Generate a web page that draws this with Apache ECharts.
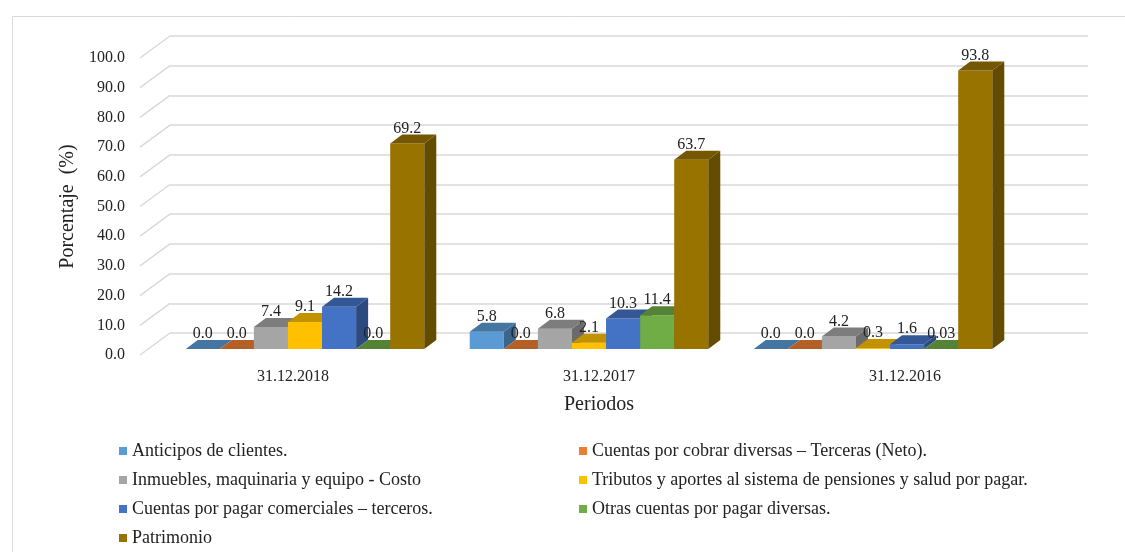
<!DOCTYPE html>
<html>
<head>
<meta charset="utf-8">
<title>Porcentaje por periodos</title>
<script src="https://cdn.jsdelivr.net/npm/echarts@6/dist/echarts.min.js"></script>
<style>
  html, body { margin: 0; padding: 0; background: #fff; }
  #chart { width: 1125px; height: 552px; }
</style>
</head>
<body>
<div id="chart"></div>
<script>
// datos
const periodos = ['31.12.2018', '31.12.2017', '31.12.2016']
const nombres = [
  'Anticipos de clientes.',
  'Cuentas por cobrar diversas – Terceras (Neto).',
  'Inmuebles, maquinaria y equipo - Costo',
  'Tributos y aportes al sistema de pensiones y salud por pagar.',
  'Cuentas por pagar comerciales – terceros.',
  'Otras cuentas por pagar diversas.',
  'Patrimonio'
]
const anticipos = [0.0, 5.8, 0.0]
const cuentasCobrar = [0.0, 0.0, 0.0]
const inmuebles = [7.4, 6.8, 4.2]
const tributos = [9.1, 2.1, 0.3]
const cuentasPagar = [14.2, 10.3, 1.6]
const otrasCuentas = [0.0, 11.4, 0.03]
const patrimonio = [69.2, 63.7, 93.8]
const ticks = [0, 10, 20, 30, 40, 50, 60, 70, 80, 90, 100]

const valores = [anticipos, cuentasCobrar, inmuebles, tributos, cuentasPagar, otrasCuentas, patrimonio]
const colores = ['#5B9BD5', '#ED7D31', '#A5A5A5', '#FFC000', '#4472C4', '#70AD47', '#997300']

const FONT = "'Liberation Serif', 'Times New Roman', serif"
const TXT = '#222'
const GRID_COLOR = '#d9d9d9'
// profundidad del piso (frente -> fondo) y de cada barra
const WALL_DX = 30, WALL_DY = 22
const BAR_DX = 12, BAR_DY = 9
const BAR_FRAC = 0.12

function shade(hex, f) {
  const n = parseInt(hex.slice(1), 16)
  const r = Math.round(((n >> 16) & 255) * f)
  const g = Math.round(((n >> 8) & 255) * f)
  const b = Math.round((n & 255) * f)
  return 'rgb(' + r + ',' + g + ',' + b + ')'
}

function fmt(v) {
  return v > 0 && v < 0.1 ? v.toFixed(2) : v.toFixed(1)
}

function barSeries(k) {
  const color = colores[k]
  return {
    name: nombres[k],
    type: 'custom',
    xAxisIndex: 2,
    yAxisIndex: 2,
    z: 3,
    itemStyle: { color: color },
    data: valores[k].map((v, i) => [i, v]),
    renderItem(params, api) {
      const cat = api.value(0)
      const v = api.value(1)
      const base = api.coord([cat, 0])
      const top = api.coord([cat, v])
      const bw = api.size([1, 0])[0] * BAR_FRAC
      const x0 = base[0] + (k - 3.5) * bw
      const x1 = x0 + bw
      const y0 = base[1]
      const y1 = top[1]
      return {
        type: 'group',
        children: [
          {
            type: 'rect',
            shape: { x: x0, y: y1, width: bw, height: y0 - y1 },
            style: { fill: color }
          },
          {
            type: 'polygon',
            shape: { points: [[x1, y0], [x1 + BAR_DX, y0 - BAR_DY], [x1 + BAR_DX, y1 - BAR_DY], [x1, y1]] },
            style: { fill: shade(color, 0.65) }
          },
          {
            type: 'polygon',
            shape: { points: [[x0, y1], [x1, y1], [x1 + BAR_DX, y1 - BAR_DY], [x0 + BAR_DX, y1 - BAR_DY]] },
            style: { fill: shade(color, 0.76) }
          },
          {
            type: 'text',
            z2: 10,
            style: {
              text: fmt(v),
              x: x0 + bw / 2,
              y: y1 - BAR_DY - 6,
              align: 'center',
              verticalAlign: 'middle',
              textAlign: 'center',
              textVerticalAlign: 'middle',
              font: '16px ' + FONT,
              fill: TXT
            }
          }
        ]
      }
    }
  }
}

const chart = echarts.init(document.getElementById('chart'))

const legendBase = {
  orient: 'vertical',
  top: 442,
  padding: 0,
  height: 110,
  icon: 'rect',
  itemWidth: 8,
  itemHeight: 8,
  itemGap: 11,
  selectedMode: false,
  textStyle: { fontSize: 18, lineHeight: 18, color: TXT, fontFamily: FONT, padding: [0, 0, 0, 0] }
}

chart.setOption({
  animation: false,
  color: colores,
  textStyle: { fontFamily: FONT },
  graphic: [
    {
      type: 'rect',
      left: 10,
      top: 14,
      shape: { width: 1130, height: 560 },
      style: { fill: 'none', stroke: GRID_COLOR, lineWidth: 1 },
      silent: true
    }
  ],
  grid: [
    { left: 170, right: 37, top: 36, bottom: 219 },
    { left: 140, right: 67, top: 58, bottom: 197 },
    { left: 163, right: 110, top: 52, bottom: 203 }
  ],
  xAxis: [
    { type: 'category', gridIndex: 0, data: periodos, show: false },
    {
      type: 'category',
      gridIndex: 1,
      data: periodos,
      axisLine: { show: false },
      axisTick: { show: false },
      axisLabel: { margin: 14, fontSize: 16, color: TXT, fontFamily: FONT },
      name: 'Periodos',
      nameLocation: 'middle',
      nameGap: 40,
      nameTextStyle: { fontSize: 20, color: TXT, fontFamily: FONT }
    },
    { type: 'category', gridIndex: 2, data: periodos, show: false }
  ],
  yAxis: [
    {
      type: 'value',
      gridIndex: 0,
      min: 0,
      max: 100,
      interval: 10,
      axisLabel: { show: false },
      axisLine: { show: false },
      axisTick: { show: false },
      splitLine: { show: true, lineStyle: { color: GRID_COLOR, width: 1.5 } }
    },
    {
      type: 'value',
      gridIndex: 1,
      min: 0,
      max: 100,
      interval: 10,
      axisLine: { show: false },
      axisTick: { show: false },
      splitLine: { show: false },
      axisLabel: {
        margin: 15,
        fontSize: 16,
        color: TXT,
        fontFamily: FONT,
        formatter: v => v.toFixed(1)
      },
      name: 'Porcentaje  (%)',
      nameLocation: 'middle',
      nameRotate: 90,
      nameGap: 51,
      nameTextStyle: { fontSize: 20, color: TXT, fontFamily: FONT }
    },
    { type: 'value', gridIndex: 2, min: 0, max: 100, show: false }
  ],
  legend: [
    Object.assign({}, legendBase, {
      left: 119,
      data: [nombres[0], nombres[2], nombres[4], nombres[6]]
    }),
    Object.assign({}, legendBase, {
      left: 579,
      data: [nombres[1], nombres[3], nombres[5]]
    })
  ],
  series: [
    {
      // lineas diagonales del piso hacia la pared del fondo
      type: 'custom',
      xAxisIndex: 1,
      yAxisIndex: 1,
      z: 1,
      silent: true,
      data: ticks.map(t => [0, t]),
      renderItem(params, api) {
        const p = api.coord([0, api.value(1)])
        const x = params.coordSys.x
        return {
          type: 'line',
          shape: { x1: x, y1: p[1], x2: x + WALL_DX, y2: p[1] - WALL_DY },
          style: { stroke: GRID_COLOR, lineWidth: 1.5 }
        }
      }
    }
  ].concat(nombres.map((_, k) => barSeries(k)))
})
</script>
</body>
</html>
